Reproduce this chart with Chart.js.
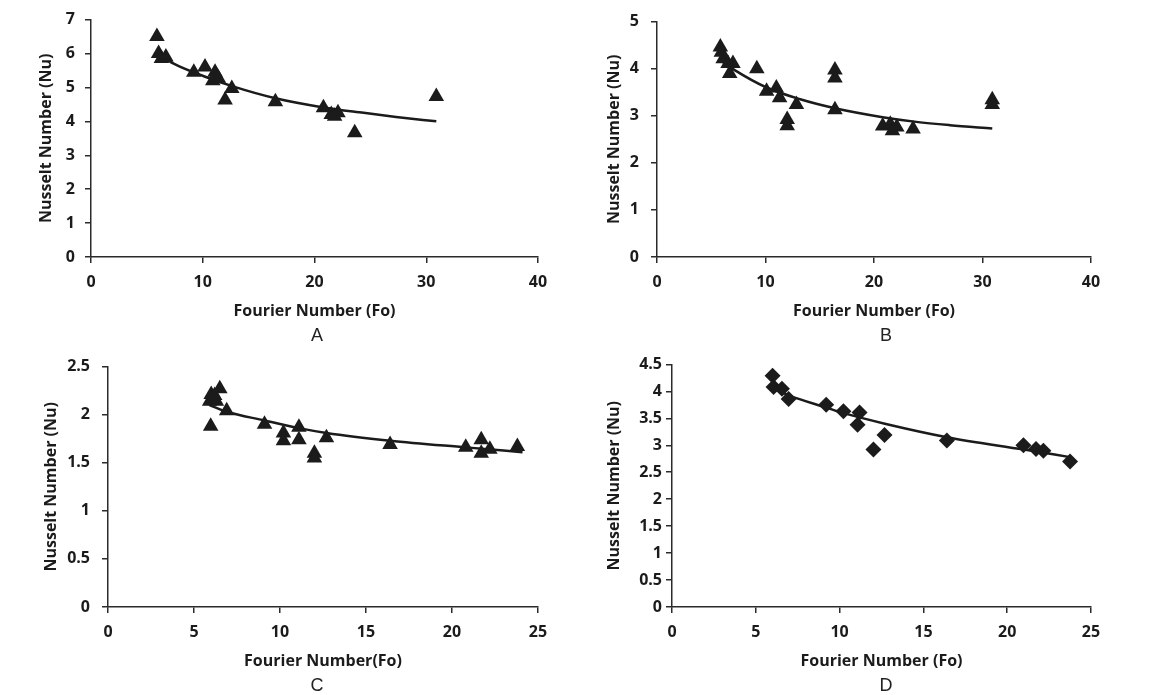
<!DOCTYPE html>
<html>
<head>
<meta charset="utf-8">
<script src="https://cdn.jsdelivr.net/npm/chart.js@4.4.0/dist/chart.umd.min.js"></script>
<style>
  body { margin: 0; background: #fff; width: 1161px; height: 695px; overflow: hidden; position: relative; }
  .panel { position: absolute; }
  .letra { position: absolute; font-family: "Liberation Sans", Arial, sans-serif; font-size: 18px; color: #222; transform: translate(-50%, -50%); }
</style>
</head>
<body>
<div class="panel" style="left:0px;top:0px;width:580px;height:330px"><canvas id="chartA"></canvas></div>
<div class="panel" style="left:580px;top:0px;width:581px;height:330px"><canvas id="chartB"></canvas></div>
<div class="panel" style="left:0px;top:345px;width:580px;height:350px"><canvas id="chartC"></canvas></div>
<div class="panel" style="left:580px;top:345px;width:581px;height:350px"><canvas id="chartD"></canvas></div>
<div class="letra" style="left:317px;top:335px">A</div>
<div class="letra" style="left:886px;top:335px">B</div>
<div class="letra" style="left:317px;top:685px">C</div>
<div class="letra" style="left:886px;top:685px">D</div>

<script>
// Datos (Fo, Nu)
var foA = [5.9, 6.05, 6.3, 6.7, 9.2, 10.2, 11.1, 10.9, 11.4, 12.0, 12.6, 16.5, 20.8, 21.5, 21.8, 22.1, 23.6, 30.9];
var nuA = [6.5, 6.0, 5.85, 5.9, 5.45, 5.6, 5.45, 5.2, 5.27, 4.63, 4.97, 4.58, 4.4, 4.2, 4.15, 4.25, 3.66, 4.73];
var tendFoA = [5.9, 7.4, 10.1, 12.7, 16.5, 20.8, 24.4, 27.3, 30.9];
var tendNuA = [6.02, 5.7, 5.33, 5.03, 4.68, 4.41, 4.25, 4.13, 4.0];

var foB = [5.84, 5.93, 6.1, 6.55, 7.0, 6.7, 9.2, 10.1, 11.0, 11.3, 12.85, 12.0, 12.0, 16.4, 16.4, 16.4, 20.8, 21.5, 21.7, 22.1, 23.6, 30.9, 30.9];
var nuB = [4.46, 4.35, 4.21, 4.11, 4.11, 3.9, 4.0, 3.52, 3.59, 3.38, 3.24, 2.92, 2.79, 3.97, 3.8, 3.13, 2.78, 2.82, 2.68, 2.76, 2.72, 3.34, 3.24];
var tendFoB = [5.84, 7.16, 10.1, 13.2, 16.4, 20.8, 23.9, 27.0, 30.9];
var tendNuB = [4.18, 3.97, 3.6, 3.35, 3.16, 2.97, 2.87, 2.8, 2.73];

var foC = [5.91, 6.0, 6.2, 6.5, 6.3, 6.9, 5.97, 9.1, 10.2, 10.2, 11.1, 11.1, 12.0, 12.0, 12.7, 16.4, 20.8, 21.7, 21.7, 22.2, 23.8];
var nuC = [2.14, 2.21, 2.2, 2.27, 2.14, 2.04, 1.88, 1.9, 1.81, 1.73, 1.87, 1.74, 1.6, 1.55, 1.76, 1.69, 1.66, 1.74, 1.6, 1.64, 1.67];
var tendFoC = [5.9, 6.9, 9.1, 11.1, 12.7, 16.4, 20.8, 24.1];
var tendNuC = [2.1, 2.03, 1.94, 1.86, 1.81, 1.73, 1.66, 1.61];

var foD = [6.0, 6.06, 6.56, 6.96, 9.2, 10.23, 11.19, 11.07, 12.02, 12.68, 16.4, 20.97, 21.72, 22.16, 23.75];
var nuD = [4.29, 4.08, 4.05, 3.86, 3.75, 3.63, 3.61, 3.38, 2.92, 3.19, 3.09, 3.0, 2.93, 2.9, 2.7];
var tendFoD = [6.0, 7.0, 9.2, 10.2, 12.7, 16.4, 21.0, 23.75];
var tendNuD = [4.06, 3.92, 3.7, 3.6, 3.4, 3.15, 2.92, 2.78];

var tinta = '#1b1b1b';
var fuente = { family: "'Open Sans', 'Noto Sans', sans-serif", weight: 'bold', size: 16 };

function pares(xs, ys) {
    return xs.map(function (x, i) { return { x: x, y: ys[i] }; });
}

// quita los ceros de sobra: 2.0 -> 2
function etiqueta(v) {
    return String(+v.toFixed(1));
}

// area: caja deseada del area de trazado (px dentro del canvas)
function crearGrafico(id, p) {
    var ctx = document.getElementById(id).getContext('2d');
    var chart = new Chart(ctx, {
        type: 'scatter',
        data: {
            datasets: [{
                data: pares(p.fo, p.nu),
                pointStyle: p.marca,
                pointRadius: p.radio,
                backgroundColor: tinta,
                borderColor: tinta,
                borderWidth: 0
            }, {
                data: pares(p.tendFo, p.tendNu),
                showLine: true,
                pointRadius: 0,
                borderColor: tinta,
                borderWidth: 2.5,
                cubicInterpolationMode: 'monotone'
            }]
        },
        options: {
            responsive: true,
            maintainAspectRatio: false,
            animation: false,
            events: [],
            layout: { padding: { left: 0, top: 10, right: 30, bottom: p.alto - p.area.b - 64 } },
            plugins: { legend: { display: false }, tooltip: { enabled: false } },
            scales: {
                x: {
                    min: 0, max: p.xMax,
                    ticks: { stepSize: p.xPaso, color: tinta, font: fuente, padding: 10, callback: etiqueta },
                    grid: { drawOnChartArea: false, tickLength: 6, color: '#2b2b2b', lineWidth: 1.5 },
                    border: { color: '#2b2b2b', width: 1.5 },
                    title: { display: true, text: p.tituloX, color: tinta, font: fuente, padding: 0 },
                    afterFit: function (s) { s.height = 64; }
                },
                y: {
                    min: 0, max: p.yMax,
                    ticks: { stepSize: p.yPaso, color: tinta, font: fuente, padding: p.padY, callback: etiqueta },
                    grid: { drawOnChartArea: false, tickLength: 6, color: '#2b2b2b', lineWidth: 1.5 },
                    border: { color: '#2b2b2b', width: 1.5 },
                    title: { display: true, text: 'Nusselt Number (Nu)', color: tinta, font: fuente, padding: { top: p.tituloY - 10, bottom: 0 } },
                    afterFit: function (s) { s.width = p.area.l; }
                }
            }
        }
    });
    // ajustar el area de trazado a la del original
    var a = chart.chartArea, pad = chart.options.layout.padding;
    pad.top += p.area.t - a.top;
    pad.right += a.right - p.area.r;
    pad.bottom += a.bottom - p.area.b;
    chart.update('none');
    return chart;
}

crearGrafico('chartA', {
    fo: foA, nu: nuA, tendFo: tendFoA, tendNu: tendNuA, marca: 'triangle', radio: 9,
    xMax: 40, xPaso: 10, yMax: 7, yPaso: 1, tituloX: 'Fourier Number (Fo)',
    area: { l: 91, t: 17, r: 538, b: 257 }, alto: 330, tituloY: 47, padY: 10
});
crearGrafico('chartB', {
    fo: foB, nu: nuB, tendFo: tendFoB, tendNu: tendNuB, marca: 'triangle', radio: 9,
    xMax: 40, xPaso: 10, yMax: 5, yPaso: 1, tituloX: 'Fourier Number (Fo)',
    area: { l: 77, t: 17, r: 511, b: 257 }, alto: 330, tituloY: 35, padY: 12
});
crearGrafico('chartC', {
    fo: foC, nu: nuC, tendFo: tendFoC, tendNu: tendNuC, marca: 'triangle', radio: 9,
    xMax: 25, xPaso: 5, yMax: 2.5, yPaso: 0.5, tituloX: 'Fourier Number(Fo)',
    area: { l: 108, t: 23, r: 538, b: 262 }, alto: 350, tituloY: 52, padY: 12
});
crearGrafico('chartD', {
    fo: foD, nu: nuD, tendFo: tendFoD, tendNu: tendNuD, marca: 'rectRot', radio: 8,
    xMax: 25, xPaso: 5, yMax: 4.5, yPaso: 0.5, tituloX: 'Fourier Number (Fo)',
    area: { l: 92, t: 23, r: 511, b: 262 }, alto: 350, tituloY: 35, padY: 4
});
</script>
</body>
</html>
